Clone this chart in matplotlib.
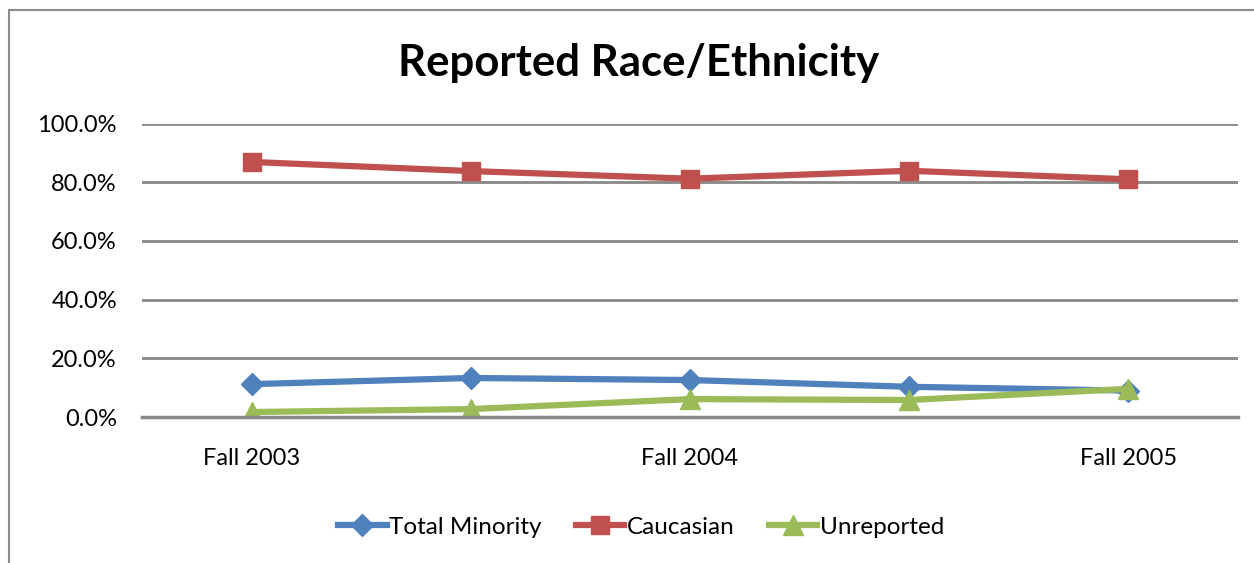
import matplotlib.pyplot as plt
from matplotlib.patches import Rectangle
from matplotlib.ticker import FuncFormatter

terms = ["Fall 2003", "", "Fall 2004", "", "Fall 2005"]
minority = [11.2, 13.3, 12.6, 10.3, 9.0]
caucasian = [86.9, 83.8, 81.2, 83.9, 81.0]
unreported = [1.7, 2.7, 6.1, 5.8, 9.6]

plt.rcParams['font.family'] = ['Lato', 'DejaVu Sans']

fig = plt.figure(figsize=(12.54, 5.63), dpi=100)
# outer chart frame
fig.patches.append(Rectangle((9 / 1254, -0.1), 1.2, 1 - 10 / 563 + 0.1,
                             transform=fig.transFigure, fill=False,
                             edgecolor="#8c8c8c", linewidth=1.5))

ax = fig.add_axes([0.1132, 0.2593, 0.8740, 0.5213])
x = range(len(terms))

ax.plot(x, minority, color="#4f81bd", lw=4.5, marker="D", ms=11, label="Total Minority")
ax.plot(x, caucasian, color="#c0504d", lw=4.5, marker="s", ms=13, label="Caucasian")
ax.plot(x, unreported, color="#9bbb59", lw=4.5, marker="^", ms=15, label="Unreported")

ax.set_xlim(-0.5, 4.5)
ax.set_ylim(0, 100)
ax.set_yticks([0, 20, 40, 60, 80, 100])
ax.yaxis.set_major_formatter(FuncFormatter(lambda v, p: f"{v:.1f}%"))
ax.set_xticks(list(x))
ax.set_xticklabels(terms)
ax.tick_params(axis="both", length=0, labelsize=17, colors="black")
ax.tick_params(axis="x", pad=22)
ax.tick_params(axis="y", pad=18)
ax.grid(axis="y", color="#878787", lw=2)
ax.set_axisbelow(True)
for s in ["left", "right", "top"]:
    ax.spines[s].set_visible(False)
ax.spines["bottom"].set_color("#878787")
ax.spines["bottom"].set_linewidth(2.5)

fig.text(639 / 1254, 1 - 63 / 563, "Reported Race/Ethnicity",
         ha="center", va="center", fontsize=31.5, fontweight="bold")

fig.legend(loc="center", bbox_to_anchor=(641 / 1254, 1 - 527 / 563), ncol=3,
           frameon=False, fontsize=17.5, handlelength=2.0, columnspacing=1.4,
           handletextpad=0.1)

fig.savefig("out.png", dpi=100)
